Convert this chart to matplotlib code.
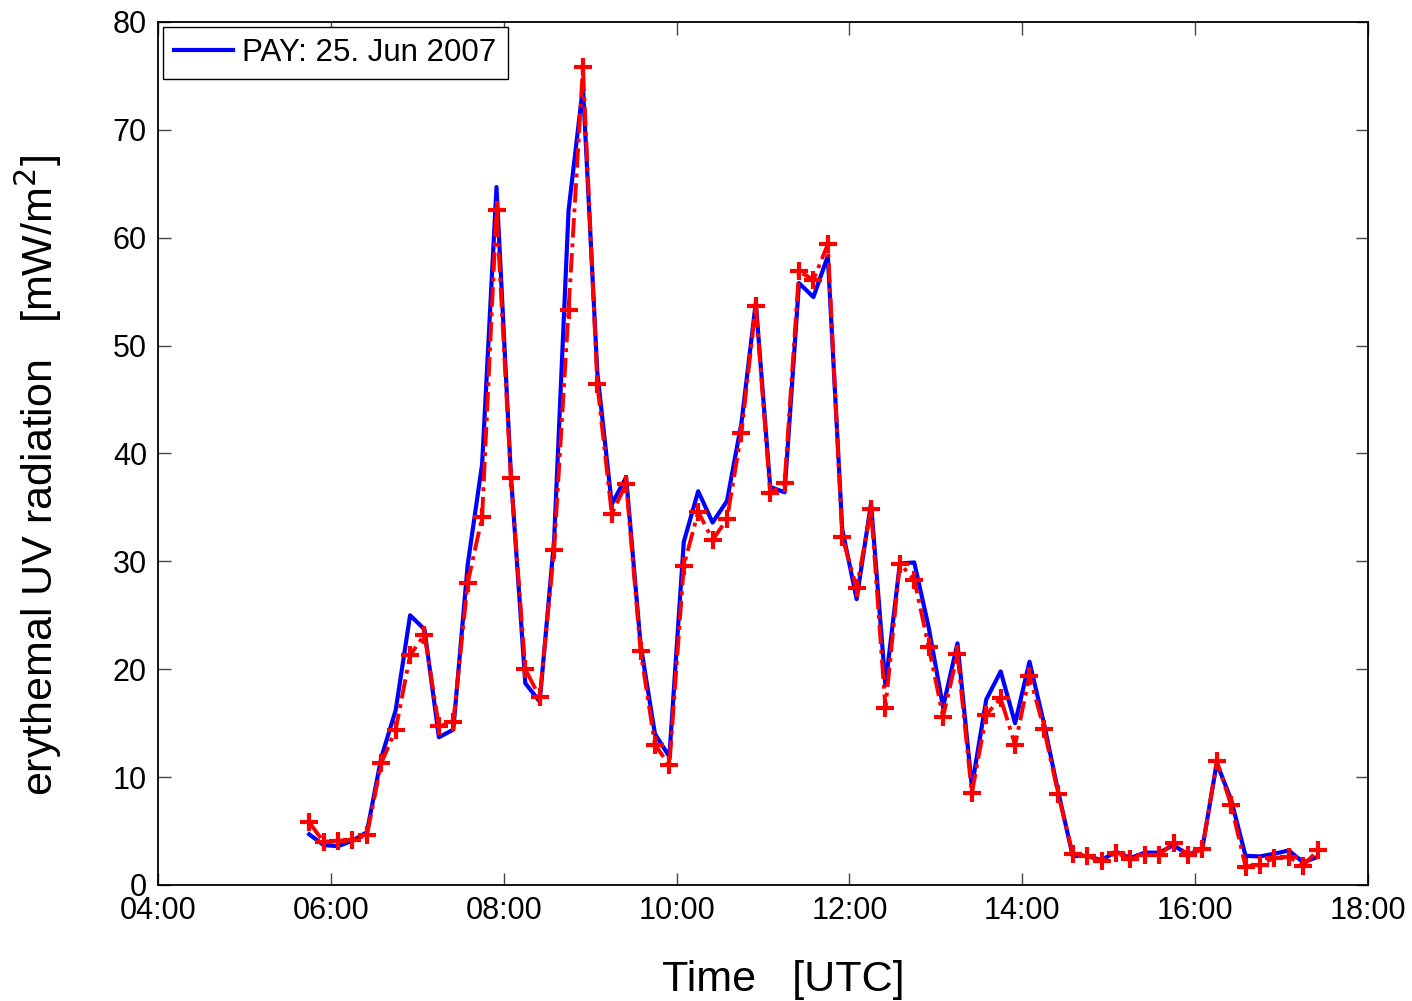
import matplotlib
matplotlib.use("Agg")
import matplotlib.pyplot as plt
import matplotlib.dates as mdates
import pandas as pd

# 10-minute sampling times (UTC)
times = [
    "05:45", "05:55", "06:05", "06:15", "06:25", "06:35", "06:45", "06:55", "07:05", "07:15",
    "07:25", "07:35", "07:45", "07:55", "08:05", "08:15", "08:25", "08:35", "08:45", "08:55",
    "09:05", "09:15", "09:25", "09:35", "09:45", "09:55", "10:05", "10:15", "10:25", "10:35",
    "10:45", "10:55", "11:05", "11:15", "11:25", "11:35", "11:45", "11:55", "12:05", "12:15",
    "12:25", "12:35", "12:45", "12:55", "13:05", "13:15", "13:25", "13:35", "13:45", "13:55",
    "14:05", "14:15", "14:25", "14:35", "14:45", "14:55", "15:05", "15:15", "15:25", "15:35",
    "15:45", "15:55", "16:05", "16:15", "16:25", "16:35", "16:45", "16:55", "17:05", "17:15",
    "17:25",
]

# measured erythemal UV (PAY station), mW/m^2
measured = [
    4.7, 3.7, 3.6, 4.1, 4.9, 11.8, 16.2, 25.0, 23.7, 13.7,
    14.4, 29.7, 39.0, 64.7, 38.0, 18.7, 17.0, 32.0, 62.5, 74.0,
    47.5, 35.3, 37.8, 22.3, 14.0, 11.9, 31.8, 36.5, 33.6, 35.6,
    42.8, 54.0, 36.9, 36.4, 55.8, 54.5, 58.3, 33.0, 26.5, 35.4,
    18.5, 29.8, 29.9, 23.9, 16.5, 22.4, 9.1, 17.2, 19.8, 15.0,
    20.7, 15.0, 8.6, 2.7, 2.7, 2.3, 3.1, 2.5, 3.0, 3.0,
    3.7, 2.8, 3.4, 11.3, 7.9, 2.7, 2.65, 2.9, 3.2, 2.1,
    2.6,
]

# modelled erythemal UV, mW/m^2
modelled = [
    5.8, 4.0, 4.1, 4.2, 4.6, 11.3, 14.4, 21.3, 23.2, 14.7,
    15.1, 28.0, 34.1, 62.6, 37.7, 20.0, 17.4, 31.1, 53.3, 75.8,
    46.4, 34.4, 37.2, 21.7, 13.0, 11.1, 29.6, 34.6, 32.0, 33.9,
    41.9, 53.7, 36.3, 37.3, 56.9, 56.1, 59.4, 32.3, 27.5, 34.9,
    16.4, 29.8, 28.3, 22.1, 15.6, 21.4, 8.5, 15.8, 17.3, 13.0,
    19.4, 14.5, 8.4, 2.9, 2.7, 2.2, 3.0, 2.4, 2.8, 2.8,
    3.9, 2.8, 3.3, 11.5, 7.4, 1.7, 1.9, 2.5, 2.6, 1.8,
    3.2,
]

legend_label = "PAY: 25. Jun 2007"
day = "2007-06-25"

t = pd.to_datetime([f"{day} {s}" for s in times])

plt.rcParams["font.family"] = ["Liberation Sans", "DejaVu Sans"]

fig = plt.figure(figsize=(14.12, 10.01), dpi=100)
ax = fig.add_axes([158 / 1412, 1 - 885 / 1001, 1210 / 1412, 863 / 1001])

ax.plot(t, measured, color="#0000ff", lw=3.0, label=legend_label, zorder=2)
ax.plot(t, modelled, color="#ff0000", lw=2.8, ls=(0, (5, 1.5, 1, 1.5)),
        marker="+", ms=12.5, mew=3.0, zorder=3)

ax.set_xlim(pd.Timestamp(f"{day} 04:00"), pd.Timestamp(f"{day} 18:00"))
ax.set_ylim(0, 80)
ax.xaxis.set_major_locator(mdates.HourLocator(byhour=range(4, 19, 2)))
ax.xaxis.set_major_formatter(mdates.DateFormatter("%H:%M"))
ax.set_yticks(range(0, 81, 10))

ax.tick_params(direction="in", length=9, width=1.0, color="#444444",
               top=True, right=True, labelsize=22, pad=8)
for sp in ax.spines.values():
    sp.set_linewidth(1.3)

ax.set_xlabel("Time   [UTC]", fontsize=31, va="center")
ax.set_ylabel("erythemal UV radiation   [mW/m$^2$]", fontsize=31, va="center")
ax.xaxis.set_label_coords(0.5165, -0.1105)
ax.yaxis.set_label_coords(-0.099, 0.475)

leg = ax.legend(loc="upper left", fontsize=22.5, handlelength=1.9,
                borderaxespad=0.15, fancybox=False, framealpha=1,
                borderpad=0.35, handletextpad=0.3)
leg.get_frame().set_edgecolor("black")
leg.get_frame().set_linewidth(1.0)

fig.savefig("out.png", dpi=100)
